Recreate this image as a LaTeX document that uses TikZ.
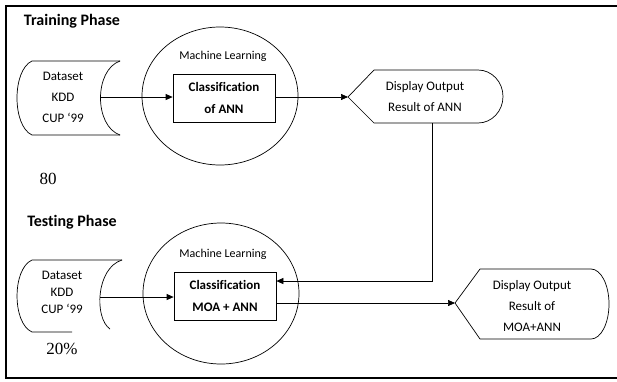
\documentclass[tikz,border=0pt]{standalone}
\usepackage{fontspec}
\setmainfont{Carlito}[Ligatures=NoCommon]
\newfontfamily\tnr{Liberation Serif}
\usetikzlibrary{arrows.meta}
\begin{document}
\begin{tikzpicture}[x=1pt,y=-1pt,
  outline/.style={line width=0.7pt},
  conn/.style={line width=0.7pt,-{Triangle[length=7pt,width=6pt]}},
  lbl/.style={inner sep=0pt,align=center},
  phase/.style={inner sep=0pt,font=\bfseries\fontsize{16}{18}\selectfont},
  ml/.style={inner sep=0pt,font=\fontsize{12}{14}\selectfont},
  clsbox/.style={draw,line width=0.7pt,minimum width=102pt,inner sep=0pt,align=center,font=\bfseries\fontsize{13}{22}\selectfont},
  pct/.style={inner sep=0pt,font=\tnr\fontsize{17}{19}\selectfont}]
\useasboundingbox (0,0) rectangle (617,381);
% frame
\draw[line width=1.6pt] (617,6) -- (6,6) -- (6,378) -- (617,378);

% titles
\node[phase] (tp) at (72,21) {Training Phase};
\node[phase] (ts) at (72,222) {Testing Phase};

% top dataset
\draw[outline] (120,61) -- (32,61) .. controls (12,70) and (12,126) .. (32,135) -- (120,135);
\draw[outline] (120,61) .. controls (94,70) and (94,126) .. (120,135);
\node[lbl,font=\fontsize{13}{21}\selectfont] (ds1) at (63,97) {Dataset\\KDD\\CUP ‘99};
\coordinate (ds1out) at (100,97);

% top ML ellipse
\draw[outline] (220,96) ellipse [x radius=78, y radius=69];
\node[ml] (ml1) at (223,56) {Machine Learning};
\node[clsbox,minimum height=48pt] (cls1) at (224,98) {Classification\\of ANN};

% top display
\coordinate (dp1) at (348,97);
\draw[outline] (dp1) -- (374,70) -- (478,70) arc[start angle=-90,end angle=90,x radius=25,y radius=26.5] -- (374,123) -- cycle;
\node[lbl,font=\fontsize{13}{21}\selectfont] (disp1) at (425,97) {Display Output\\Result of ANN};
\coordinate (dp1b) at (432,123);

% 80
\node[pct] (p80) at (48,179) {80};

% bottom dataset
\draw[outline] (122,260) -- (32,260) .. controls (12,269) and (12,323) .. (32,332) -- (72,332);
\draw[outline] (122,260) .. controls (96,268) and (94,318) .. (110,329);
\node[lbl,font=\fontsize{13}{17}\selectfont] (ds2) at (62,292) {Dataset\\KDD\\CUP ‘99};
\coordinate (ds2out) at (100,297);

% bottom ML ellipse
\draw[outline] (221,293.5) ellipse [x radius=78, y radius=70.5];
\node[ml] (ml2) at (223,254) {Machine Learning};
\node[clsbox,minimum height=48pt] (cls2) at (225,296) {Classification\\MOA + ANN};

% bottom display
\coordinate (dp2) at (455,303);
\draw[outline] (dp2) -- (480,269) -- (591,269) arc[start angle=-90,end angle=90,x radius=18,y radius=35] -- (480,339) -- cycle;
\node[lbl,font=\fontsize{13}{21}\selectfont] (disp2) at (532,306) {Display Output\\Result of\\MOA+ANN};

% 20%
\node[pct] (p20) at (62,349) {20\%};

% connectors
\draw[conn] (ds1out) -- (cls1.west |- ds1out);
\draw[conn] (cls1.east |- dp1) -- (dp1);
\draw[conn] (dp1b) -- (432,281) -- (cls2.east |- 0,281);
\draw[conn] (ds2out) -- (cls2.west |- ds2out);
\draw[conn] (cls2.east |- dp2) -- (dp2);
\end{tikzpicture}
\end{document}
